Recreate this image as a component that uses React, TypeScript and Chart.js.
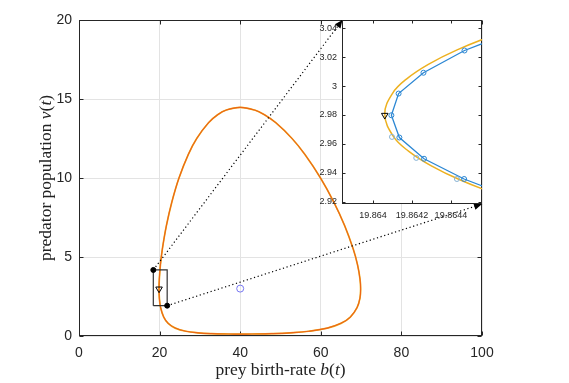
import React, { useEffect, useRef } from "react";
import { Chart, registerables } from "chart.js";
Chart.register(...registerables);

// ---------- main plot ----------
const mainXTicks = [0, 20, 40, 60, 80, 100];
const mainYTicks = [0, 5, 10, 15, 20];
const xTitleParts: [string, boolean][] = [["prey birth-rate ", false], ["b", true], ["(", false], ["t", true], [")", false]];
const yTitleParts: [string, boolean][] = [["predator population ", false], ["v", true], ["(", false], ["t", true], [")", false]];

// limit cycle (prey b, predator v)
const cycleB = [40.0, 42.92, 47.86, 52.37, 57.02, 61.61, 65.0, 67.32, 69.0, 69.72, 69.88, 69.73, 69.12, 68.05, 65.89, 63.17, 59.93, 56.02, 52.86, 48.82, 46.02, 43.57, 40.0, 36.56, 34.4, 32.15, 29.21, 27.14, 24.81, 23.06, 21.7, 20.68, 20.2, 19.93, 19.864, 19.94, 20.25, 21.02, 22.13, 23.88, 26.52, 29.55, 32.92, 37.15, 40.0];
const cycleV = [0.116, 0.125, 0.15, 0.2, 0.3, 0.5, 0.8, 1.2, 1.8, 2.4, 3.0, 3.6, 4.5, 5.5, 7.0, 8.5, 10.0, 11.5, 12.5, 13.5, 14.0, 14.3, 14.47, 14.3, 14.0, 13.5, 12.5, 11.5, 10.0, 8.5, 7.0, 5.5, 4.5, 3.6, 3.0, 2.4, 1.8, 1.2, 0.8, 0.5, 0.3, 0.2, 0.15, 0.125, 0.116];

const zoomRectB = [18.44, 21.88, 21.88, 18.44, 18.44];
const zoomRectV = [1.92, 1.92, 4.18, 4.18, 1.92];
const cornerB = [18.44, 21.88];
const cornerV = [4.18, 1.92];
const startB = [19.864];
const startV = [2.98];
const equilB = [40];
const equilV = [3];
const link1B = [18.44, 65.38];
const link1V = [4.18, 20];
const link2B = [21.88, 100];
const link2V = [1.92, 8.35];

// ---------- inset ----------
const insetXTicks = [19.864, 19.8642, 19.8644];
const insetYTicks = [2.92, 2.94, 2.96, 2.98, 3.0, 3.02, 3.04];
const exactB = [19.864842, 19.864618, 19.864432, 19.864284, 19.864173, 19.8641, 19.86406, 19.864105, 19.864182, 19.864297, 19.864449, 19.864639, 19.864867];
const exactV = [3.045, 3.035, 3.025, 3.015, 3.005, 2.995, 2.9805, 2.965, 2.955, 2.945, 2.935, 2.925, 2.915];
const numB = [19.864678, 19.86447, 19.864259, 19.864131, 19.864094, 19.864135, 19.864262, 19.864468, 19.864678];
const numV = [3.0354, 3.0246, 3.0092, 2.9948, 2.9798, 2.9644, 2.9497, 2.9357, 2.9248];
const sampleB = [19.864097, 19.864222, 19.864431];
const sampleV = [2.9648, 2.9503, 2.9357];
const insetStartB = [19.86406];
const insetStartV = [2.9798];

const pts = (xs: number[], ys: number[]) => xs.map((x, i) => ({ x, y: ys[i] }));

const AXIS_COLOR = "#262626";
const TICK_FONT = "'Liberation Sans', Arial, sans-serif";

function framePlugin(tickLen: number, bg?: string) {
  return {
    id: "frame",
    beforeDraw(chart: any) {
      if (!bg) return;
      const { ctx, chartArea: a } = chart;
      ctx.save();
      ctx.fillStyle = bg;
      ctx.fillRect(a.left, a.top, a.right - a.left, a.bottom - a.top);
      ctx.restore();
    },
    beforeDatasetsDraw(chart: any) {
      const { ctx, chartArea: a, scales } = chart;
      const L = Math.round(a.left) + 0.5;
      const R = Math.round(a.right) - 0.5;
      const T = Math.round(a.top) + 0.5;
      const B = Math.round(a.bottom) - 0.5;
      ctx.save();
      ctx.strokeStyle = AXIS_COLOR;
      ctx.lineWidth = 1;
      ctx.beginPath();
      for (const t of scales.x.ticks) {
        const px = Math.round(scales.x.getPixelForValue(t.value)) + 0.5;
        ctx.moveTo(px, B);
        ctx.lineTo(px, B - tickLen);
        ctx.moveTo(px, T);
        ctx.lineTo(px, T + tickLen);
      }
      for (const t of scales.y.ticks) {
        const py = Math.round(scales.y.getPixelForValue(t.value)) + 0.5;
        ctx.moveTo(L, py);
        ctx.lineTo(L + tickLen, py);
        ctx.moveTo(R, py);
        ctx.lineTo(R - tickLen, py);
      }
      ctx.stroke();
      ctx.strokeRect(L, T, R - L, B - T);
      ctx.restore();
    },
  };
}

const arrowPlugin = {
  id: "arrows",
  afterDatasetsDraw(chart: any) {
    const { ctx } = chart;
    chart.data.datasets.forEach((ds: any, i: number) => {
      if (!ds.arrow) return;
      const meta = chart.getDatasetMeta(i);
      const n = meta.data.length;
      const p1 = meta.data[n - 2];
      const p2 = meta.data[n - 1];
      const ang = Math.atan2(p2.y - p1.y, p2.x - p1.x);
      const len = 8;
      const hw = 3.5;
      ctx.save();
      ctx.translate(p2.x, p2.y);
      ctx.rotate(ang);
      ctx.fillStyle = "#000";
      ctx.beginPath();
      ctx.moveTo(0, 0);
      ctx.lineTo(-len, -hw);
      ctx.lineTo(-len, hw);
      ctx.closePath();
      ctx.fill();
      ctx.restore();
    });
  },
};

function drawMixed(ctx: CanvasRenderingContext2D, parts: [string, boolean][], cx: number, cy: number, size: number) {
  const f = (it: boolean) => `${it ? "italic " : ""}${size}px 'Liberation Serif', 'DejaVu Serif', serif`;
  let total = 0;
  for (const [t, it] of parts) {
    ctx.font = f(it);
    total += ctx.measureText(t).width;
  }
  let x = cx - total / 2;
  ctx.textAlign = "left";
  ctx.textBaseline = "middle";
  for (const [t, it] of parts) {
    ctx.font = f(it);
    ctx.fillText(t, x, cy);
    x += ctx.measureText(t).width;
  }
}

const titlePlugin = {
  id: "titles",
  afterDraw(chart: any) {
    const { ctx, chartArea: a } = chart;
    ctx.save();
    ctx.fillStyle = "#222";
    drawMixed(ctx, xTitleParts, (a.left + a.right) / 2, 370, 17.5);
    ctx.translate(46, (a.top + a.bottom) / 2);
    ctx.rotate(-Math.PI / 2);
    drawMixed(ctx, yTitleParts, 0, 0, 17.5);
    ctx.restore();
  },
};

const fmt = (v: number) => String(parseFloat(Number(v).toFixed(6)));

export default function App() {
  const mainRef = useRef<HTMLCanvasElement>(null);
  const insetRef = useRef<HTMLCanvasElement>(null);

  useEffect(() => {
    const mainChart = new Chart(mainRef.current!, {
      type: "line",
      data: {
        datasets: [
          { data: pts(cycleB, cycleV), borderColor: "#EDB120", borderWidth: 1.7, pointRadius: 0, tension: 0.4, order: 10 } as any,
          { data: pts(cycleB, cycleV), borderColor: "#EC6418", borderWidth: 1.1, pointRadius: 0, tension: 0.4, order: 9 },
          { data: pts(zoomRectB, zoomRectV), borderColor: "#333", borderWidth: 1.2, pointRadius: 0, tension: 0, order: 5 },
          { data: pts(link1B, link1V), borderColor: "#000", borderWidth: 1.2, borderDash: [1.2, 2.6], pointRadius: 0, tension: 0, clip: false, arrow: true, order: 4 },
          { data: pts(link2B, link2V), borderColor: "#000", borderWidth: 1.2, borderDash: [1.2, 2.6], pointRadius: 0, tension: 0, clip: false, arrow: true, order: 4 },
          { data: pts(cornerB, cornerV), showLine: false, pointRadius: 2.5, pointBackgroundColor: "#000", pointBorderColor: "#000", order: 3 },
          { data: pts(startB, startV), showLine: false, pointStyle: "triangle", rotation: 180, pointRadius: 3.8, pointBorderWidth: 1, pointBorderColor: "#000", pointBackgroundColor: "rgba(0,0,0,0)", order: 2 },
          { data: pts(equilB, equilV), showLine: false, pointRadius: 3.5, pointBorderWidth: 1, pointBorderColor: "#7676F2", pointBackgroundColor: "rgba(0,0,0,0)", order: 2 },
        ] as any,
      },
      options: {
        animation: false,
        responsive: false,
        layout: { padding: { top: 20, right: 87, left: 0, bottom: 0 } },
        plugins: { legend: { display: false }, tooltip: { enabled: false } },
        scales: {
          x: {
            type: "linear",
            min: 0,
            max: 100,
            afterBuildTicks: (s: any) => { s.ticks = mainXTicks.map((value) => ({ value })); },
            afterFit: (s: any) => { s.height = 47; },
            ticks: { color: AXIS_COLOR, font: { family: TICK_FONT, size: 14 }, padding: 9, maxRotation: 0, autoSkip: false, callback: (v: any) => fmt(v) },
            grid: { color: "#e3e3e3", drawTicks: false },
            border: { display: false },
          },
          y: {
            type: "linear",
            min: 0,
            max: 20,
            afterBuildTicks: (s: any) => { s.ticks = mainYTicks.map((value) => ({ value })); },
            afterFit: (s: any) => { s.width = 79; },
            ticks: { color: AXIS_COLOR, font: { family: TICK_FONT, size: 14 }, padding: 7, autoSkip: false, callback: (v: any) => fmt(v) },
            grid: { color: "#e3e3e3", drawTicks: false },
            border: { display: false },
          },
        },
      } as any,
      plugins: [framePlugin(4), arrowPlugin, titlePlugin],
    });

    const insetChart = new Chart(insetRef.current!, {
      type: "line",
      data: {
        datasets: [
          { data: pts(exactB, exactV), borderColor: "#EDB120", borderWidth: 1.5, pointRadius: 0, tension: 0.4, clip: 0, order: 10 },
          { data: pts(numB, numV), borderColor: "#2C87D3", borderWidth: 1.3, tension: 0, clip: 0, pointRadius: 2.5, pointBorderWidth: 1, pointBorderColor: "#2C87D3", pointBackgroundColor: "rgba(0,0,0,0)", order: 8 },
          { data: pts(sampleB, sampleV), showLine: false, clip: 0, pointRadius: 2.5, pointBorderWidth: 1, pointBorderColor: "#86B2D4", pointBackgroundColor: "rgba(0,0,0,0)", order: 7 },
          { data: pts(insetStartB, insetStartV), showLine: false, pointStyle: "triangle", rotation: 180, pointRadius: 3.8, pointBorderWidth: 1, pointBorderColor: "#000", pointBackgroundColor: "rgba(0,0,0,0)", order: 1 },
        ] as any,
      },
      options: {
        animation: false,
        responsive: false,
        layout: { padding: { top: 20, right: 87, left: 0, bottom: 0 } },
        plugins: { legend: { display: false }, tooltip: { enabled: false } },
        scales: {
          x: {
            type: "linear",
            min: 19.86384,
            max: 19.86456,
            afterBuildTicks: (s: any) => { s.ticks = insetXTicks.map((value) => ({ value })); },
            afterFit: (s: any) => { s.height = 26; },
            ticks: { color: AXIS_COLOR, font: { family: TICK_FONT, size: 9 }, padding: 6, maxRotation: 0, minRotation: 0, autoSkip: false, callback: (v: any) => fmt(v) },
            grid: { display: false, drawTicks: false },
            border: { display: false },
          },
          y: {
            type: "linear",
            min: 2.9184,
            max: 3.0457,
            afterBuildTicks: (s: any) => { s.ticks = insetYTicks.map((value) => ({ value })); },
            afterFit: (s: any) => { s.width = 42; },
            ticks: { color: AXIS_COLOR, font: { family: TICK_FONT, size: 9 }, padding: 5, autoSkip: false, callback: (v: any) => fmt(v) },
            grid: { display: false, drawTicks: false },
            border: { display: false },
          },
        },
      } as any,
      plugins: [framePlugin(3, "#ffffff")],
    });

    return () => {
      mainChart.destroy();
      insetChart.destroy();
    };
  }, []);

  return (
    <div style={{ position: "absolute", left: 0, top: 0, width: 569, height: 383, background: "#fff" }}>
      <canvas ref={mainRef} width={569} height={383} style={{ position: "absolute", left: 0, top: 0, width: 569, height: 383 }} />
      <canvas ref={insetRef} width={269} height={230} style={{ position: "absolute", left: 300, top: 0, width: 269, height: 230 }} />
    </div>
  );
}
